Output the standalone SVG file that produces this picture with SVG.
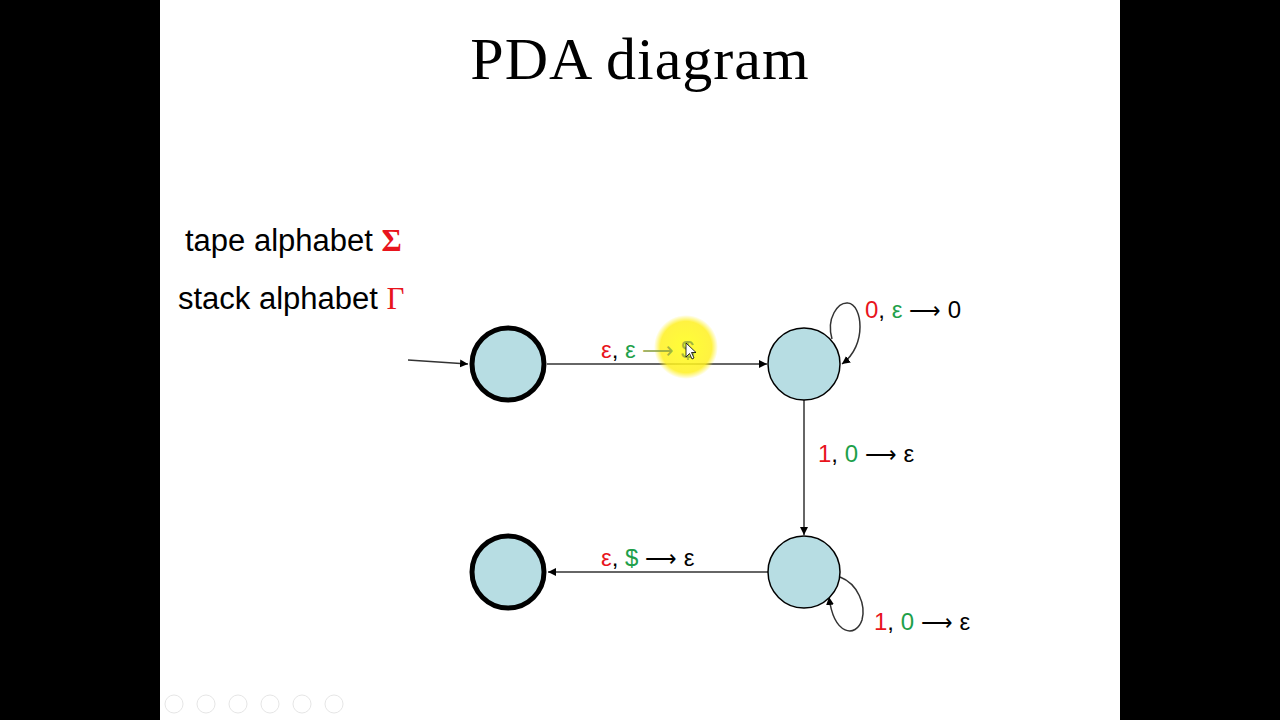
<svg xmlns="http://www.w3.org/2000/svg" width="1280" height="720" viewBox="0 0 1280 720">
<defs>
<style>
.st{fill:#b7dde3;stroke:#000;stroke-width:1.5}
.fin{fill:#b7dde3;stroke:#000;stroke-width:5}
.e{stroke:#333;stroke-width:1.5;fill:none}
.lb{font-family:"Liberation Sans",Arial,sans-serif;font-size:24px;fill:#000}
.ar{font-family:"DejaVu Sans",sans-serif;font-size:22px;font-weight:200}
.r{fill:#e8141c}
.g{fill:#1ea04a}
.ui{fill:none;stroke:#e6e6e6;stroke-width:1}
</style>
<marker id="ah" viewBox="0 0 10 10" refX="10" refY="5" markerWidth="8" markerHeight="8" markerUnits="userSpaceOnUse" orient="auto">
<path d="M0,0 L10,5 L0,10 z" fill="#000"/>
</marker>
<radialGradient id="hl">
<stop offset="0" stop-color="#ffff20" stop-opacity="0.9"/>
<stop offset="0.8" stop-color="#fff020" stop-opacity="0.85"/>
<stop offset="1" stop-color="#fff020" stop-opacity="0"/>
</radialGradient>
</defs>
<rect width="1280" height="720" fill="#000"/>
<rect x="160" y="0" width="960" height="720" fill="#fff"/>
<text x="640" y="79" text-anchor="middle" font-family="'Liberation Serif','DejaVu Serif',serif" font-size="60" letter-spacing="1" fill="#000">PDA diagram</text>
<text x="185" y="251" font-family="'Liberation Sans',Arial,sans-serif" font-size="31" fill="#000">tape alphabet <tspan font-family="'Liberation Serif',serif" font-weight="bold" fill="#e8141c">Σ</tspan></text>
<text x="178" y="309" font-family="'Liberation Sans',Arial,sans-serif" font-size="31" fill="#000">stack alphabet <tspan font-family="'Liberation Serif',serif" fill="#e8141c">Γ</tspan></text>
<g id="connectors">
<line class="e" x1="408" y1="360" x2="468" y2="364" marker-end="url(#ah)"/>
<line class="e" x1="547" y1="364" x2="767" y2="364" marker-end="url(#ah)"/>
<line class="e" x1="804" y1="400" x2="804" y2="535" marker-end="url(#ah)"/>
<line class="e" x1="768" y1="572" x2="548" y2="572" marker-end="url(#ah)"/>
<path class="e" d="M832,339 C826,318 838,302 848,303 C862,304 868,345 842,364" marker-end="url(#ah)"/>
<path class="e" d="M840,577 C858,584 866,605 862,620 C856,638 834,636 829,597" marker-end="url(#ah)"/>
</g>
<g id="q1"><circle class="fin" cx="508" cy="364" r="36"/></g>
<g id="q2"><circle class="st" cx="804" cy="364" r="36"/></g>
<g id="q3"><circle class="st" cx="804" cy="572" r="36"/></g>
<g id="q4"><circle class="fin" cx="508" cy="572" r="36"/></g>
<g id="labels">
<circle cx="686" cy="347" r="32" fill="url(#hl)"/>
<text class="lb" x="601" y="358"><tspan class="r">ε</tspan>, <tspan class="g">ε</tspan> <tspan fill="#8aa040" fill-opacity="0.8"><tspan class="ar">⟶</tspan> $</tspan></text>
<text class="lb" x="865" y="318"><tspan class="r">0</tspan>, <tspan class="g">ε</tspan> <tspan class="ar">⟶</tspan> 0</text>
<text class="lb" x="818" y="462"><tspan class="r">1</tspan>, <tspan class="g">0</tspan> <tspan class="ar">⟶</tspan> ε</text>
<text class="lb" x="601" y="566"><tspan class="r">ε</tspan>, <tspan class="g">$</tspan> <tspan class="ar">⟶</tspan> ε</text>
<text class="lb" x="874" y="630"><tspan class="r">1</tspan>, <tspan class="g">0</tspan> <tspan class="ar">⟶</tspan> ε</text>
</g>
<path d="M686,343 L686,357 L689.5,353.5 L692,359 L694,358 L691.5,352.5 L696,352.5 Z" fill="#fff" stroke="#000" stroke-width="0.8"/>
<g id="toolbar">
<circle class="ui" cx="174" cy="704" r="9"/><circle class="ui" cx="206" cy="704" r="9"/><circle class="ui" cx="238" cy="704" r="9"/><circle class="ui" cx="270" cy="704" r="9"/><circle class="ui" cx="302" cy="704" r="9"/><circle class="ui" cx="334" cy="704" r="9"/>
</g>
</svg>
